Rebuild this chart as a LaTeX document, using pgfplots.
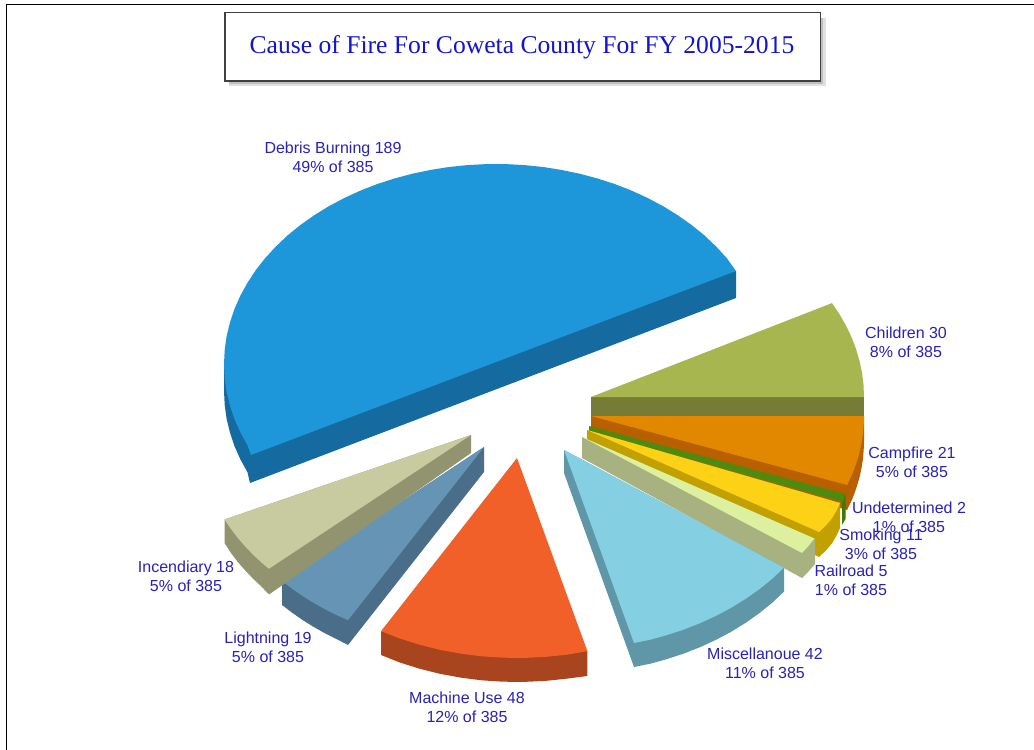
\documentclass[border=0pt]{standalone}
\usepackage{pgfplots}
\pgfplotsset{compat=1.18}
\usepackage{fontspec}
\setmainfont{Liberation Sans}
\newfontfamily\titlefont{Liberation Serif}
\definecolor{labelblue}{HTML}{2A22B8}
\definecolor{titleblue}{HTML}{1414CC}
% wedge faces and their side walls
\definecolor{debrisT}{HTML}{1E96DA}\definecolor{debrisS}{HTML}{156A9F}
\definecolor{childT}{HTML}{A8B650}\definecolor{childS}{HTML}{767C36}
\definecolor{campT}{HTML}{E28800}\definecolor{campS}{HTML}{B85F00}
\definecolor{undetT}{HTML}{4E8A0E}\definecolor{undetS}{HTML}{3F7A08}
\definecolor{smokeT}{HTML}{FCD116}\definecolor{smokeS}{HTML}{C2A000}
\definecolor{railT}{HTML}{DDF0A0}\definecolor{railS}{HTML}{A8B280}
\definecolor{miscT}{HTML}{85CFE2}\definecolor{miscS}{HTML}{5F97A8}
\definecolor{machT}{HTML}{F06028}\definecolor{machS}{HTML}{A8451E}
\definecolor{lightT}{HTML}{6694B5}\definecolor{lightS}{HTML}{4A6E8A}
\definecolor{incT}{HTML}{C8CAA0}\definecolor{incS}{HTML}{92946F}
\pgfplotsset{face/.style={fill=#1,draw=none,forget plot}}
\newcommand{\lbl}[3]{\node[text=labelblue,align=center,inner sep=0pt,font=\fontsize{16bp}{19bp}\selectfont] at (#1,#2) {#3};}
\begin{document}
\begin{tikzpicture}
\begin{axis}[
  scale only axis, width=1034bp, height=750bp,
  xmin=0, xmax=1034, ymin=0, ymax=750, y dir=reverse,
  hide axis, no markers]
% page and frame
\addplot[face=white] coordinates {(0,0)(1034,0)(1034,750)(0,750)} -- cycle;
\addplot[black,line width=1.5bp,forget plot] coordinates {(6.5,750)(6.5,4.5)(1034,4.5)};
% title box with its shadow
\addplot[face=black!12] coordinates {(229,18)(826,18)(826,86)(229,86)} -- cycle;
\addplot[face=black!25] coordinates {(229,18)(823,18)(823,84)(229,84)} -- cycle;
\addplot[fill=white,draw=black!75,line width=1.4bp,forget plot] coordinates {(225,12.5)(820.5,12.5)(820.5,81)(225,81)} -- cycle;

% Debris Burning 189
\addplot[face=debrisS] coordinates {(736,271)(736,298)(250,483)(247.5,472.3)(240.4,459.4)(234.5,446.1)(230,432.6)(226.6,418.8)(224.7,405)(224,391)(224,364)} -- cycle;
\addplot[face=debrisT] coordinates {(736,271)(726.7,258)(716,246.4)(704.4,235.4)(691.7,225.1)(678,215.4)(663.5,206.4)(648.1,198.2)(632,190.8)(615.2,184.2)(597.9,178.6)(580,173.8)(561.8,170)(543.2,167)(524.4,165.1)(505.5,164.1)(486.5,164.1)(467.6,165.1)(448.8,167)(430.2,170)(412,173.8)(394.1,178.6)(376.8,184.2)(360,190.8)(343.9,198.2)(328.5,206.4)(314,215.4)(300.3,225.1)(287.6,235.4)(276,246.4)(265.3,258)(255.8,270.1)(247.5,282.7)(240.4,295.6)(234.5,308.9)(230,322.4)(226.6,336.2)(224.7,350)(224,364)(224.7,378)(226.6,391.8)(230,405.6)(234.5,419.1)(240.4,432.4)(247.5,445.3)(251,455)} -- cycle;
% Children 30
\addplot[face=childS] coordinates {(591,397)(864,397)(864,417)(591,417)} -- cycle;
\addplot[face=childT] coordinates {(591,397)(864,397)(863.5,384.8)(862,372.6)(859.4,360.6)(855.9,348.6)(851.4,336.9)(845.9,325.3)(839.4,314.1)(832,303.1)} -- cycle;
% Campfire 21
\addplot[face=campS] coordinates {(591,416)(591,435)(847,510)(851.4,501.1)(854.7,492.8)(857.5,484.3)(859.9,475.7)(861.7,467.1)(863,458.4)(863.7,449.7)(864,441)(864,416)} -- cycle;
\addplot[face=campT] coordinates {(591,416)(864,416)(863.7,424.7)(863,433.4)(861.7,442.1)(859.9,450.7)(857.5,459.3)(854.7,467.8)(851.4,476.1)(847,485)} -- cycle;
% Undetermined 2
\addplot[face=undetS] coordinates {(845.5,494.4)(845.5,519)(842,525)(842,501)} -- cycle;
\addplot[face=undetT] coordinates {(589,426)(845.5,494)(843,502)(589,431)} -- cycle;
% Smoking 11
\addplot[face=smokeS] coordinates {(587,430)(587,448)(819,557)(826,550.5)(832.4,542.7)(836.6,535.5)(840,528)(840,503)} -- cycle;
\addplot[face=smokeT] coordinates {(587,430)(840,503)(836.6,510.5)(832.4,517.7)(826,525.5)(819,532)} -- cycle;
% Railroad 5
\addplot[face=railS] coordinates {(582,437)(582,458)(802,578)(808.5,571.5)(815,564)(815,539)} -- cycle;
\addplot[face=railT] coordinates {(582,437)(814.5,538.5)(808,546.5)(802,553)} -- cycle;
% Miscellanoue 42
\addplot[face=miscS] coordinates {(564,450)(564,473)(634,667)(650.3,663.7)(665.9,659.4)(683.2,653.8)(700,647.2)(716.1,639.8)(731.5,631.6)(746,622.6)(759.7,612.9)(772.4,602.6)(784,591.6)(784,567.6)} -- cycle;
\addplot[face=miscT] coordinates {(564,450)(634,643)(650.3,639.7)(665.9,635.4)(683.2,629.8)(700,623.2)(716.1,615.8)(731.5,607.6)(746,598.6)(759.7,588.9)(772.4,578.6)(784,567.6)} -- cycle;
% Machine Use 48
\addplot[face=machS] coordinates {(381,631.2)(381,655)(399.9,662.5)(419.5,668.7)(439.8,673.8)(460.5,677.6)(481.5,680.3)(502.8,681.7)(524.1,681.9)(545.4,680.9)(566.6,678.7)(587.4,676)(587.4,651.2)} -- cycle;
\addplot[face=machT] coordinates {(517,458)(381,631.2)(399.9,638.5)(419.5,644.7)(439.8,649.8)(460.5,653.6)(481.5,656.3)(502.8,657.7)(524.1,657.9)(545.4,656.9)(566.6,654.7)(587.4,651.2)} -- cycle;
% Lightning 19
\addplot[face=lightS] coordinates {(484,447)(484,472)(348,645)(335.9,638.7)(324.1,632.8)(312.8,626.4)(302,619.6)(291.7,612.4)(282,605)(282,581)} -- cycle;
\addplot[face=lightT] coordinates {(484,447)(282,581)(291.7,588.4)(302,595.6)(312.8,602.4)(324.1,608.8)(335.9,614.7)(348,620.2)} -- cycle;
% Incendiary 18
\addplot[face=incS] coordinates {(471,435)(471,453)(269,594.5)(261.1,586.2)(253.8,579.4)(245.5,570.8)(237.8,562)(230.9,552.9)(224.5,543)(224.5,519.5)} -- cycle;
\addplot[face=incT] coordinates {(471,435)(224.5,519.5)(230.9,528.9)(237.8,538)(245.5,546.8)(253.8,555.4)(261.1,562.2)(268.9,568.8)} -- cycle;

% title and slice labels
\node[text=titleblue,inner sep=0pt,font=\titlefont\fontsize{25.6bp}{30bp}\selectfont] at (522,47) {Cause of Fire For Coweta County For FY 2005-2015};
\lbl{333}{157}{Debris Burning 189\\49\% of 385}
\lbl{906}{342}{Children 30\\8\% of 385}
\lbl{912}{462}{Campfire 21\\5\% of 385}
\lbl{909}{517}{Undetermined 2\\1\% of 385}
\lbl{881}{544}{Smoking 11\\3\% of 385}
\lbl{851}{580}{Railroad 5\\1\% of 385}
\lbl{765}{663}{Miscellanoue 42\\11\% of 385}
\lbl{467}{707}{Machine Use 48\\12\% of 385}
\lbl{268}{647}{Lightning 19\\5\% of 385}
\lbl{186}{576}{Incendiary 18\\5\% of 385}
\end{axis}
\end{tikzpicture}
\end{document}
